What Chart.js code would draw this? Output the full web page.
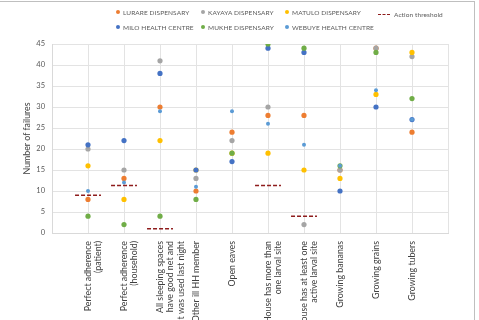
<!DOCTYPE html>
<html><head><meta charset="utf-8">
<script src="https://cdn.jsdelivr.net/npm/chart.js@4.4.0/dist/chart.umd.min.js"></script>
<style>
html,body{margin:0;padding:0;background:#fff;}
#wrap{position:relative;width:479px;height:320px;overflow:hidden;font-family:Lato,"Open Sans",sans-serif;}
#frame{position:absolute;left:-2px;top:1px;width:477px;height:330px;border-top:1px solid #bfbfbf;border-right:1px solid #bfbfbf;box-sizing:border-box;}
canvas{position:absolute;left:0;top:0;}
.lg{position:absolute;font-size:6.5px;color:#595959;white-space:nowrap;letter-spacing:0.1px;}
.dot{display:inline-block;width:4px;height:4px;border-radius:50%;margin-right:3px;vertical-align:middle;position:relative;top:-1px;}
.dash{display:inline-block;width:12px;border-top:1.5px dashed #8e1c1c;margin-right:4px;vertical-align:middle;position:relative;top:-1px;}
</style></head>
<body><div id="wrap"><div id="frame"></div><canvas id="c" width="479" height="320"></canvas>
<div id="legend"></div></div>
<script>
const categories = [
  ["Perfect adherence","(patient)"],
  ["Perfect adherence","(household)"],
  ["All sleeping spaces","have good net and","it was used last night"],
  ["Other ill HH member"],
  ["Open eaves"],
  ["House has more than","one larval site"],
  ["House has at least one","active larval site"],
  ["Growing bananas"],
  ["Growing grains"],
  ["Growing tubers"]
];
const seriesNames = ["LURARE DISPENSARY","KAYAYA DISPENSARY","MATULO DISPENSARY","MILO HEALTH CENTRE","MUKHE DISPENSARY","WEBUYE HEALTH CENTRE"];
const seriesColors = ["#ED7D31","#A5A5A5","#FFC000","#4472C4","#70AD47","#5B9BD5"];
const lurare = [8, 13, 30, 10, 24, 28, 28, 15, 44, 24];
const kayaya = [20, 15, 41, 13, 22, 30, 2, 15, 44, 42];
const matulo = [16, 8, 22, 15, 19, 19, 15, 13, 33, 43];
const milo   = [21, 22, 38, 15, 17, 44, 43, 10, 30, 27];
const mukhe  = [4, 2, 4, 8, 19, 45, 44, 16, 43, 32];
const webuye = [10, 12, 29, 11, 29, 26, 21, 16, 34, 27];
const threshold = [9, 11.3, 1, null, null, 11.3, 4, null, null, null];
const yTicks = [0,5,10,15,20,25,30,35,40,45];
const thresholdName = "Action threshold";

const allSeries = [lurare,kayaya,matulo,milo,mukhe,webuye];
const datasets = allSeries.map((vals,i)=>({
  type:'scatter',
  label:seriesNames[i],
  order:10-i,
  data: vals.map((v,k)=>({x:k+1,y:v})),
  backgroundColor:seriesColors[i],
  borderColor:seriesColors[i],
  pointRadius: i===5 ? 2 : 2.6,
  pointBorderWidth:0
}));
const thrData = [];
threshold.forEach((v,k)=>{
  if(v===null) return;
  thrData.push({x:k+1-0.36,y:v},{x:k+1+0.36,y:v},{x:k+1+0.5,y:null});
});
datasets.push({
  type:'line', label:thresholdName, data:thrData, order:0,
  borderColor:'#8e1c1c', borderWidth:1.6, borderDash:[4,2],
  pointRadius:0, spanGaps:false, fill:false
});

new Chart(document.getElementById('c'),{
  data:{datasets},
  options:{
    responsive:false, animation:false,
    layout:{padding:{top:44,right:31,left:22,bottom:0}},
    plugins:{legend:{display:false},tooltip:{enabled:false}},
    scales:{
      x:{type:'linear',min:0,max:11,
        afterBuildTicks:s=>{s.ticks=[0,1,2,3,4,5,6,7,8,9,10,11].map(v=>({value:v}));},
        afterFit:s=>{s.height=87;},
        grid:{color:'#e3e3e3',drawTicks:false},
        border:{color:'#d9d9d9'},
        ticks:{minRotation:90,maxRotation:90,autoSkip:false,padding:8,color:'#404040',
          font:{family:'Lato',size:8.8},
          callback:v=>(v>=1&&v<=10)?categories[v-1]:''}
      },
      y:{min:0,max:45,
        afterBuildTicks:s=>{s.ticks=yTicks.map(v=>({value:v}));},
        afterFit:s=>{s.width=30;},
        grid:{color:'#e3e3e3',drawTicks:false},
        border:{color:'#d9d9d9'},
        ticks:{padding:7,color:'#595959',font:{family:'Lato',size:7.5}},
        title:{display:true,text:'Number of failures',color:'#404040',font:{family:'Lato',size:8.8},padding:{top:0,bottom:0}}
      }
    }
  }
});

const lg = document.getElementById('legend');
const cols=[116,201,285];
seriesNames.forEach((n,i)=>{
  const d=document.createElement('div');d.className='lg';
  d.style.left=cols[i%3]+'px';d.style.top=(i<3?9:24)+'px';
  d.innerHTML='<span class="dot" style="background:'+seriesColors[i]+'"></span>'+n;
  lg.appendChild(d);
});
const t=document.createElement('div');t.className='lg';
t.style.left='378px';t.style.top='11px';
t.innerHTML='<span class="dash"></span>'+thresholdName;
lg.appendChild(t);
</script></body></html>
